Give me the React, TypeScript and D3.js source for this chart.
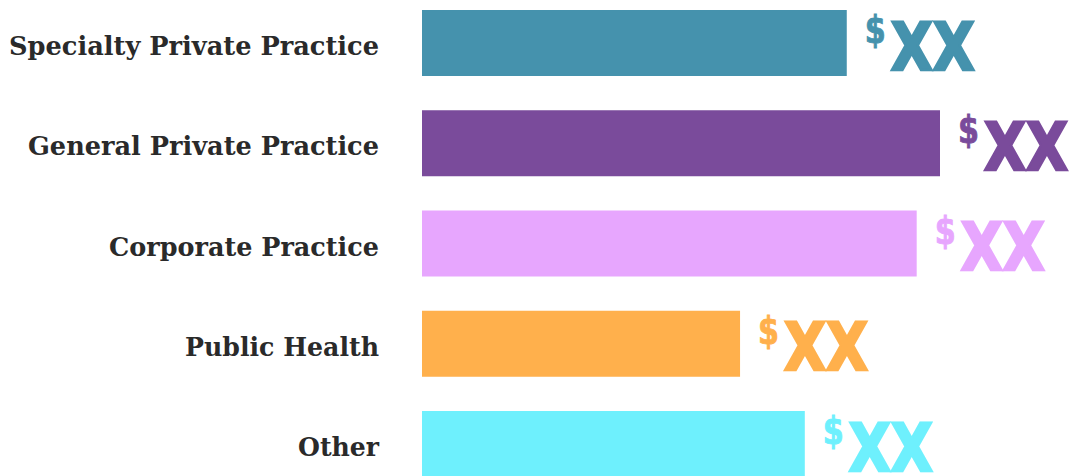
import React from "react";
import * as d3 from "d3";

const categories = [
  "Specialty Private Practice",
  "General Private Practice",
  "Corporate Practice",
  "Public Health",
  "Other",
];
const values = [82, 100, 95.5, 61.4, 73.9];
const valueLabels = ["XX", "XX", "XX", "XX", "XX"];
const colors = ["#4592AD", "#7A4B9B", "#E7A6FE", "#FFB04C", "#6EF0FD"];
const labelWidths = [370, 351, 270, 194, 81];

const W = 1072;
const H = 476;

export default function App() {
  const x = d3.scaleLinear().domain([0, 100]).range([422, 940]);
  const y = d3
    .scalePoint<string>()
    .domain(categories)
    .range([10, 411]);
  const bh = 66;
  return (
    <svg
      width={W}
      height={H}
      style={{ position: "absolute", left: 0, top: 0, display: "block", background: "#fff" }}
    >
      {categories.map((c, i) => {
        const y0 = y(c) as number;
        const xe = x(values[i]);
        return (
          <g key={c}>
            <rect x={x(0)} y={y0} width={xe - x(0)} height={bh} fill={colors[i]} />
            <text
              x={379}
              y={y0 + 45}
              textAnchor="end"
              fontFamily="'DejaVu Serif', serif"
              fontWeight="bold"
              fontSize={26}
              fill="#2a2a2a"
              textLength={labelWidths[i]}
              lengthAdjust="spacingAndGlyphs"
            >
              {c}
            </text>
            <text
              x={xe + 18}
              y={y0 + 33}
              fontFamily="'DejaVu Sans Condensed', 'DejaVu Sans', sans-serif"
              fontStretch="condensed"
              fontWeight="bold"
              fontSize={37}
              fill={colors[i]}
              stroke={colors[i]}
              strokeWidth={0.8}
              textLength={21}
              lengthAdjust="spacingAndGlyphs"
            >
              $
            </text>
            <text
              x={xe + 44}
              y={y0 + 59.5}
              fontFamily="'DejaVu Sans Condensed', 'DejaVu Sans', sans-serif"
              fontStretch="condensed"
              fontWeight="bold"
              fontSize={66}
              fill={colors[i]}
              stroke={colors[i]}
              strokeWidth={2.5}
              strokeLinejoin="miter"
              textLength={84}
              lengthAdjust="spacingAndGlyphs"
            >
              {valueLabels[i]}
            </text>
          </g>
        );
      })}
    </svg>
  );
}
